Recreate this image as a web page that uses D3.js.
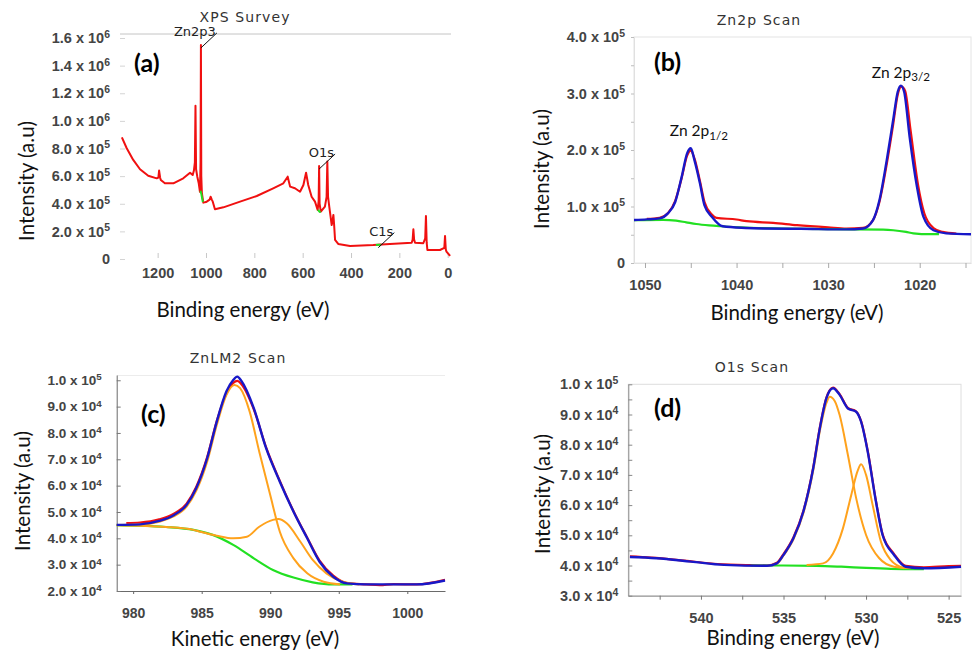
<!DOCTYPE html>
<html>
<head>
<meta charset="utf-8">
<script src="https://cdn.jsdelivr.net/npm/d3@7"></script>
<style>
body { margin: 0; background: #fff; }
svg { display: block; font-family: Lato, "Liberation Sans", sans-serif; }
.tick text { font-weight: bold; fill: #444; }
.title { font-family: "DejaVu Sans", sans-serif; font-size: 14px; letter-spacing: 1.1px; fill: #333; text-anchor: middle; }
.axis-title { font-size: 20.5px; fill: #111; text-anchor: middle; }
.panel-tag { font-size: 25px; font-weight: bold; fill: #000; }
.peak-name { font-family: "DejaVu Sans", sans-serif; font-size: 13px; fill: #222; }
</style>
</head>
<body>
<svg id="chart" width="977" height="654"></svg>
<script>
// (a) XPS survey, binding energy (eV) vs intensity
var surveyBE = [1348, 1328, 1301, 1273, 1239, 1204, 1197, 1194, 1190, 1187, 1170, 1135, 1094, 1066, 1055, 1050, 1046, 1043.5, 1041, 1036,
	1030, 1025, 1022.5, 1021, 1019.5, 1017, 1011, 1000, 997, 985, 981, 976, 972, 963, 928, 859, 790, 722, 680, 662,
	652, 632, 611, 597, 586, 577, 563, 549, 538, 534, 532, 530, 525, 508, 501, 498, 495, 490, 484, 480,
	476, 473, 470, 466, 453, 404, 308, 239, 149, 145, 142, 139, 135, 101, 93, 90, 87, 84, 32, 14,
	11, 8, 5, -10];
var surveyI = [881e3, 802e3, 717e3, 650e3, 603e3, 584e3, 590e3, 640e3, 590e3, 572e3, 548e3, 548e3, 584e3, 625e3, 608e3, 640e3, 700e3, 1110e3, 650e3, 596e3,
	548e3, 487e3, 700e3, 1550e3, 600e3, 476e3, 408e3, 412e3, 415e3, 430e3, 451e3, 430e3, 415e3, 360e3, 374e3, 415e3, 456e3, 512e3, 548e3, 596e3,
	524e3, 512e3, 487e3, 536e3, 625e3, 536e3, 451e3, 415e3, 355e3, 420e3, 673e3, 400e3, 343e3, 379e3, 450e3, 705e3, 450e3, 379e3, 300e3, 246e3,
	280e3, 319e3, 250e3, 138e3, 109e3, 94e3, 101e3, 109e3, 118e3, 140e3, 215e3, 140e3, 118e3, 114e3, 150e3, 311e3, 120e3, 65e3, 65e3, 80e3,
	167e3, 70e3, 53e3, 22e3];
var surveyBgZnBE = [1023, 1019, 1016, 1013];
var surveyBgZnI = [495e3, 468e3, 440e3, 412e3];
var surveyBgOBE = [536, 533, 529, 525];
var surveyBgOI = [356e3, 347e3, 341e3, 343e3];
var surveyBgCBE = [297, 287, 277];
var surveyBgCI = [102e3, 104e3, 103e3];
var surveyPeaks = [["Zn2p3", 1021, 1550e3], ["O1s", 532, 673e3], ["C1s", 287, 104e3]];

// (b) Zn2p scan
var zn2pRawBE = [1049.8, 1048.4, 1047.5, 1046.7, 1046, 1045.4, 1045, 1044.6, 1044, 1043.5, 1042.7, 1042.2, 1040, 1038.9, 1036, 1033.4,
	1030, 1028, 1026.2, 1025.1, 1024.4, 1023.6, 1022.9, 1022.4, 1022, 1021.6, 1021, 1020.2, 1019.5, 1018.5, 1017.5, 1016];
var zn2pRawI = [78e3, 80e3, 88e3, 110e3, 150e3, 190e3, 199e3, 185e3, 145e3, 108e3, 86e3, 80e3, 77e3, 74e3, 71e3, 67e3,
	63e3, 61e3, 62e3, 76e3, 108e3, 175e3, 245e3, 298e3, 312e3, 305e3, 235e3, 140e3, 88e3, 62e3, 55e3, 52e3];
var zn2pFitBE = [1051.2, 1049.8, 1048.4, 1047.5, 1046.7, 1046, 1045.4, 1045, 1044.6, 1044, 1043.5, 1042.7, 1041.5, 1039, 1037.1, 1033,
	1028, 1026.2, 1025.1, 1024.4, 1023.6, 1022.9, 1022.4, 1022.06, 1021.7, 1021.1, 1020.3, 1019.6, 1018.5, 1017.1, 1014.4];
var zn2pFitI = [76e3, 77.2e3, 79e3, 87.8e3, 108e3, 152e3, 194e3, 203e3, 182e3, 141e3, 102e3, 82e3, 65e3, 62e3, 61e3, 60.5e3,
	59.5e3, 61e3, 76e3, 111e3, 182e3, 253e3, 303e3, 314e3, 303e3, 223e3, 135e3, 82e3, 58e3, 52.5e3, 51e3];
var zn2pBgBE = [1051.2, 1048, 1046.6, 1045.5, 1044.4, 1043, 1041.8, 1039, 1035, 1030, 1027.3, 1024, 1022.9, 1021.5, 1020.7, 1018.9, 1017.9];
var zn2pBgI = [76e3, 76.5e3, 75e3, 72e3, 69e3, 66.5e3, 65e3, 62.5e3, 61e3, 60e3, 59.5e3, 59e3, 58e3, 55e3, 52.5e3, 51e3, 51e3];

// (c) ZnLM2 scan, kinetic energy (eV)
var znlmRawKE = [979.5, 980.5, 981.9, 982.9, 983.9, 984.6, 985.4, 986.1, 986.8, 987.3, 987.6, 987.9, 988.8, 989.7, 990.7, 991.7,
	992.7, 993.6, 994.6, 995.6, 997, 998, 999, 1000.7, 1002.75];
var znlmRawI = [45.8e3, 46e3, 47.2e3, 49.2e3, 53.2e3, 59.5e3, 70.8e3, 84.5e3, 95e3, 99e3, 99.8e3, 98.5e3, 89e3, 74.5e3, 61.8e3, 50.3e3,
	40.2e3, 31.5e3, 25.8e3, 23e3, 22.5e3, 22.2e3, 22.6e3, 22.5e3, 24.2e3];
var znlmFitKE = [978.8, 980.5, 981.9, 982.9, 983.9, 984.6, 985.4, 986.1, 986.8, 987.3, 987.6, 987.9, 988.8, 989.7, 990.7, 991.7,
	992.7, 993.6, 994.6, 995.6, 997, 1000.7, 1002.75];
var znlmFitI = [45.1e3, 45.3e3, 46.6e3, 48.6e3, 52.7e3, 59e3, 70.4e3, 84.3e3, 95.7e3, 100.1e3, 101.4e3, 99.7e3, 89.4e3, 74.2e3, 61.5e3, 50.1e3,
	40e3, 31.1e3, 25.4e3, 22.9e3, 22.5e3, 22.5e3, 24e3];
var znlmBgKE = [978.8, 980.5, 982.4, 984.4, 985.8, 987.3, 988.8, 990.2, 991.7, 993.1, 994.6, 996];
var znlmBgI = [45e3, 44.8e3, 44.3e3, 43.2e3, 41.3e3, 37.5e3, 32.4e3, 28e3, 25.1e3, 23.3e3, 22.5e3, 22.5e3];
var znlmPeak1KE = [978.8, 980.5, 981.9, 982.9, 983.9, 984.6, 985.4, 986.1, 986.8, 987.4, 987.8, 988.5, 989.2, 990, 990.7, 991.7, 992.7, 993.9, 995.1];
var znlmPeak1I = [45.1e3, 45.2e3, 46.3e3, 48.2e3, 52e3, 58e3, 69.1e3, 83e3, 94.4e3, 98.2e3, 97e3, 88.1e3, 72.9e3, 56.4e3, 42.5e3, 32.4e3, 26.7e3, 23.5e3, 22.5e3];
var znlmPeak2KE = [978.8, 982.4, 984.4, 984.9, 986.1, 987.3, 988.3, 989.2, 990.2, 990.6, 991.2, 992.2, 993.1, 994.1, 995.3, 996.5];
var znlmPeak2I = [45e3, 44.3e3, 43.2e3, 42.5e3, 41e3, 40e3, 40.6e3, 44.4e3, 47e3, 47.3e3, 45.7e3, 38.7e3, 31.8e3, 26.7e3, 23.5e3, 22.5e3];

// (d) O1s scan
var o1sRawBE = [544.3, 543, 541, 539, 537, 536, 535.4, 535, 534.4, 533.8, 533.2, 532.8, 532.4, 532, 531.6, 531.1,
	530.6, 530.3, 529.9, 529.4, 529, 528.3, 527.6, 526.5, 525, 524.25];
var o1sRawI = [43e3, 42.6e3, 41.6e3, 40.5e3, 40.1e3, 40e3, 40.9e3, 43.8e3, 49.3e3, 58e3, 72.5e3, 85.7e3, 95.6e3, 98.9e3, 96.7e3, 92.2e3,
	91e3, 87.8e3, 78e3, 61.4e3, 50.4e3, 43.8e3, 39.9e3, 39.4e3, 39.8e3, 39.9e3];
var o1sFitBE = [544.3, 542.7, 540.6, 538.6, 536, 535.4, 535, 534.4, 533.8, 533.2, 532.8, 532.4, 532, 531.6, 531.1, 530.6,
	530.3, 529.9, 529.4, 529, 528.3, 527.6, 526.5, 524.25];
var o1sFitI = [42.8e3, 42.4e3, 41.3e3, 40.2e3, 39.9e3, 40.7e3, 43.5e3, 49e3, 57.8e3, 72.2e3, 85.4e3, 95.4e3, 98.7e3, 96.5e3, 92e3, 90.9e3,
	87.6e3, 77.7e3, 61.1e3, 50.1e3, 43.5e3, 39.6e3, 39.1e3, 39.6e3];
var o1sBgBE = [537, 535, 533, 531.5, 530, 528.5, 527, 526.5];
var o1sBgI = [40e3, 40e3, 39.9e3, 39.6e3, 39.2e3, 38.9e3, 38.8e3, 38.8e3];
var o1sPeak1BE = [536, 535.4, 535, 534.4, 533.8, 533.2, 532.8, 532.4, 532.2, 531.9, 531.6, 531.1, 530.6, 530, 529.2, 528.3, 527.3];
var o1sPeak1I = [39.9e3, 40.6e3, 43.3e3, 48.7e3, 57.3e3, 71.5e3, 84.5e3, 93.8e3, 95.9e3, 94.5e3, 89.8e3, 76.6e3, 62.3e3, 50.1e3, 42.4e3, 39.6e3, 39.1e3];
var o1sPeak2BE = [533.6, 532.6, 532, 531.4, 530.9, 530.5, 530.3, 530, 529.6, 529.1, 528.5, 527.7];
var o1sPeak2I = [40.2e3, 40.7e3, 44e3, 52.3e3, 63.3e3, 71.5e3, 73.5e3, 70e3, 60e3, 47.9e3, 41.8e3, 39.1e3];

var RED = "#f01010", BLUE = "#1818c8", GREEN = "#22e022", ORANGE = "#ffa21c";

var svg = d3.select("#chart");
var plain = d3.format("d");

function plot(g, xs, ys, x, y, color, width, curve) {
	var line = d3.line()
			.x(function(d) { return x(d[0]); })
			.y(function(d) { return y(d[1]); })
			.curve(curve || d3.curveMonotoneX);
	g.append("path")
			.datum(d3.zip(xs, ys))
			.attr("fill", "none")
			.attr("stroke", color)
			.attr("stroke-width", width)
			.attr("stroke-linejoin", "round")
			.attr("d", line);
}

// replace tick text with "m.m x 10^e", blank where not labelled
function sciLabels(axisG, labelled, size) {
	axisG.selectAll(".tick text").each(function(d) {
		var t = d3.select(this).text(null).attr("font-size", size);
		if (!labelled(d)) return;
		if (d === 0) { t.text("0"); return; }
		var e = Math.floor(Math.log10(d) + 1e-9);
		t.append("tspan").text((d / Math.pow(10, e)).toFixed(1) + " x 10");
		t.append("tspan").attr("dy", "-0.5em").attr("font-size", "0.72em").text(e);
	});
}

function styleAxis(axisG, tickColor, domainColor) {
	axisG.selectAll(".tick line").attr("stroke", tickColor);
	if (domainColor) axisG.select(".domain").attr("stroke", domainColor);
	else axisG.select(".domain").remove();
}

function titles(title, tx, ty, xTitle, xx, xy, yx, yy, tag, gx, gy) {
	svg.append("text").attr("class", "title").attr("x", tx).attr("y", ty).text(title);
	svg.append("text").attr("class", "axis-title").attr("x", xx).attr("y", xy).text(xTitle);
	svg.append("text").attr("class", "axis-title")
			.attr("transform", "translate(" + yx + "," + yy + ") rotate(-90)")
			.attr("dy", "0.35em")
			.text("Intensity (a.u)");
	svg.append("text").attr("class", "panel-tag").attr("x", gx).attr("y", gy).text(tag);
}

function multiple(step) {
	return function(d) { return Math.abs(d / step - Math.round(d / step)) < 1e-6; };
}

// ---------- (a) survey ----------
var xA = d3.scaleLinear().domain([1350, -12]).range([121.4, 450.6]);
var yA = d3.scaleLinear().domain([0, 1.6e6]).range([259, 38]);
var gA = svg.append("g");
gA.append("line").attr("x1", 120).attr("x2", 451).attr("y1", 34).attr("y2", 34).attr("stroke", "#c4c4c4");

var axA = gA.append("g").attr("transform", "translate(0,253)")
		.call(d3.axisBottom(xA).tickValues([1200, 1000, 800, 600, 400, 200, 0]).tickFormat(plain).tickSize(5).tickPadding(10));
axA.selectAll(".tick text").attr("font-size", 14.5);
styleAxis(axA, "#c8c8c8");
var ayA = gA.append("g").attr("transform", "translate(125,0)")
		.call(d3.axisLeft(yA).tickValues(d3.range(0, 1.6e6 + 1, 2e5)).tickSize(5).tickPadding(10));
sciLabels(ayA, function() { return true; }, 14.5);
styleAxis(ayA, "#d4d4d4");

plot(gA, surveyBE, surveyI, xA, yA, RED, 2, d3.curveLinear);
plot(gA, surveyBgZnBE, surveyBgZnI, xA, yA, GREEN, 2, d3.curveLinear);
plot(gA, surveyBgOBE, surveyBgOI, xA, yA, GREEN, 2, d3.curveLinear);
plot(gA, surveyBgCBE, surveyBgCI, xA, yA, GREEN, 2, d3.curveLinear);

surveyPeaks.forEach(function(p) {
	var px = xA(p[1]), py = yA(p[2]) + 3;
	gA.append("line").attr("x1", px).attr("y1", py).attr("x2", px + 16).attr("y2", py - 15)
			.attr("stroke", "#111").attr("stroke-width", 1);
	gA.append("text").attr("class", "peak-name").attr("x", px + 15).attr("y", py - 12)
			.attr("text-anchor", "end").text(p[0]);
});
titles("XPS Survey", 245, 22, "Binding energy (eV)", 243, 317, 27, 181, "(a)", 134, 72);

// ---------- (b) Zn2p ----------
var xB = d3.scaleLinear().domain([1051.2, 1014.4]).range([634, 971]);
var yB = d3.scaleLinear().domain([0, 4e5]).range([263, 37]);
var gB = svg.append("g");
gB.append("rect").attr("x", 634).attr("y", 37).attr("width", 337).attr("height", 226)
		.attr("fill", "none").attr("stroke", "#e4e4e4");
var axB = gB.append("g").attr("transform", "translate(0,263)")
		.call(d3.axisBottom(xB).tickValues(d3.range(1015, 1051, 5)).tickSize(5).tickSizeOuter(0).tickPadding(12));
axB.selectAll(".tick text").attr("font-size", 14.5)
		.text(function(d) { return d % 10 === 0 ? d : ""; });
styleAxis(axB, "#a8a8a8", "#e0e0e0");
var ayB = gB.append("g").attr("transform", "translate(634,0)")
		.call(d3.axisLeft(yB).tickValues(d3.range(0, 4e5 + 1, 5e4)).tickSize(3).tickSizeOuter(0).tickPadding(6));
sciLabels(ayB, multiple(1e5), 14.5);
styleAxis(ayB, "#bdbdbd", "#e0e0e0");

plot(gB, zn2pRawBE, zn2pRawI, xB, yB, RED, 2.2);
plot(gB, zn2pBgBE, zn2pBgI, xB, yB, GREEN, 2.2);
plot(gB, zn2pFitBE, zn2pFitI, xB, yB, BLUE, 2.4);

var l1 = gB.append("text").attr("x", xB(1045) - 21).attr("y", yB(203e3) - 12).attr("font-size", 15.5).attr("fill", "#111");
l1.append("tspan").text("Zn 2p");
l1.append("tspan").attr("dy", "0.3em").attr("font-size", "0.75em").text("1/2");
var l2 = gB.append("text").attr("x", xB(1022.06) - 29).attr("y", yB(314e3) - 8).attr("font-size", 15.5).attr("fill", "#111");
l2.append("tspan").text("Zn 2p");
l2.append("tspan").attr("dy", "0.3em").attr("font-size", "0.75em").text("3/2");
titles("Zn2p Scan", 759, 25, "Binding energy (eV)", 797, 320, 542, 169, "(b)", 654, 71);

// ---------- (c) ZnLM2 ----------
var xC = d3.scaleLinear().domain([978.8, 1002.75]).range([116.7, 445]);
var yC = d3.scaleLinear().domain([2e4, 1.02e5]).range([591, 375]);
var gC = svg.append("g");
gC.append("line").attr("x1", 117).attr("x2", 445).attr("y1", 375.5).attr("y2", 375.5).attr("stroke", "#ececec");
var axC = gC.append("g").attr("transform", "translate(0,591)")
		.call(d3.axisBottom(xC).tickValues([980, 985, 990, 995, 1000]).tickFormat(plain).tickSize(3).tickSizeOuter(0).tickPadding(14));
axC.selectAll(".tick text").attr("font-size", 14);
styleAxis(axC, "#666", "#6a6a6a");
var ayC = gC.append("g").attr("transform", "translate(116.7,0)")
		.call(d3.axisLeft(yC).tickValues(d3.range(2e4, 1e5 + 1, 1e4)).tickSizeInner(-4).tickSizeOuter(0).tickPadding(15));
sciLabels(ayC, function() { return true; }, 13.5);
styleAxis(ayC, "#777", "#6a6a6a");

plot(gC, znlmRawKE, znlmRawI, xC, yC, RED, 2.2);
plot(gC, znlmBgKE, znlmBgI, xC, yC, GREEN, 2.2);
plot(gC, znlmPeak1KE, znlmPeak1I, xC, yC, ORANGE, 2);
plot(gC, znlmPeak2KE, znlmPeak2I, xC, yC, ORANGE, 2);
plot(gC, znlmFitKE, znlmFitI, xC, yC, BLUE, 2.4);
titles("ZnLM2 Scan", 238, 363, "Kinetic energy (eV)", 255, 646, 23, 491, "(c)", 141, 423);

// ---------- (d) O1s ----------
var xD = d3.scaleLinear().domain([544.4, 524.25]).range([628.3, 961]);
var yD = d3.scaleLinear().domain([3e4, 1e5]).range([595.7, 384.3]);
var gD = svg.append("g");
gD.append("rect").attr("x", 628.3).attr("y", 384.3).attr("width", 332.7).attr("height", 211.4)
		.attr("fill", "none").attr("stroke", "#dedede");
var axD = gD.append("g").attr("transform", "translate(0,595.7)")
		.call(d3.axisBottom(xD).tickValues([542.5, 540, 537.5, 535, 532.5, 530, 527.5, 525]).tickSize(4).tickSizeOuter(0).tickPadding(13));
axD.selectAll(".tick text").attr("font-size", 14.5)
		.text(function(d) { return d % 5 === 0 ? d : ""; });
styleAxis(axD, "#777", "#8a8a8a");
var ayD = gD.append("g").attr("transform", "translate(628.3,0)")
		.call(d3.axisLeft(yD).tickValues(d3.range(3e4, 1e5 + 1, 5e3)).tickSizeInner(-4).tickSizeOuter(0).tickPadding(10));
sciLabels(ayD, multiple(1e4), 14.5);
styleAxis(ayD, "#888", "#8a8a8a");

plot(gD, o1sRawBE, o1sRawI, xD, yD, RED, 2.2);
plot(gD, o1sBgBE, o1sBgI, xD, yD, GREEN, 2.2);
plot(gD, o1sPeak1BE, o1sPeak1I, xD, yD, ORANGE, 2);
plot(gD, o1sPeak2BE, o1sPeak2I, xD, yD, ORANGE, 2);
plot(gD, o1sFitBE, o1sFitI, xD, yD, BLUE, 2.4);
titles("O1s Scan", 752, 372, "Binding energy (eV)", 793, 645, 543, 494, "(d)", 654, 417);
</script>
</body>
</html>
